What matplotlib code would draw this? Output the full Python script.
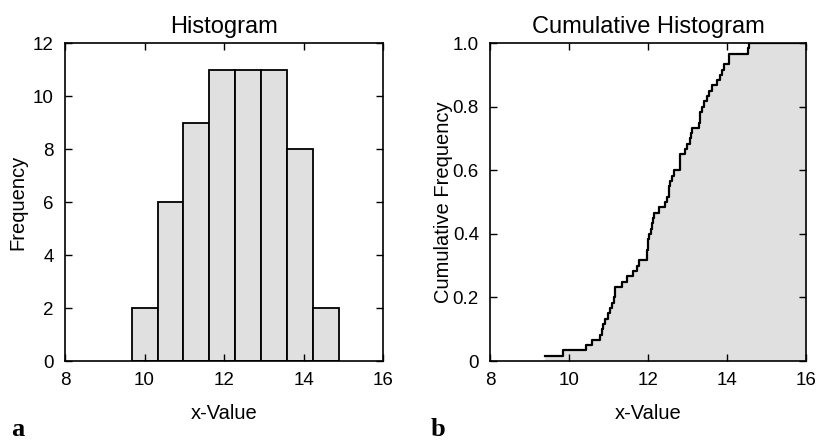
import numpy as np
import matplotlib
matplotlib.use("Agg")
import matplotlib.pyplot as plt

plt.rcParams['font.family'] = ['Liberation Sans', 'DejaVu Sans']

# histogram: bin edges and counts
bin_edges = [9.68, 10.33, 10.98, 11.63, 12.28, 12.93, 13.59, 14.24, 14.89]
counts = [2, 6, 9, 11, 11, 11, 8, 2]

# sorted sample values for the cumulative histogram
samples = [9.40, 9.86, 10.42, 10.59, 10.78, 10.84, 10.87, 10.91, 10.98, 11.05,
           11.10, 11.14, 11.155, 11.16, 11.35, 11.46, 11.61, 11.71, 11.77, 11.97,
           11.98, 11.99, 12.00, 12.03, 12.08, 12.11, 12.13, 12.15, 12.29, 12.44,
           12.48, 12.52, 12.54, 12.56, 12.62, 12.66, 12.81, 12.81, 12.82, 12.93,
           12.99, 13.06, 13.10, 13.12, 13.30, 13.31, 13.32, 13.36, 13.42, 13.49,
           13.55, 13.61, 13.74, 13.83, 13.87, 13.92, 14.05, 14.05, 14.53, 14.55]

left_yticks = [0, 2, 4, 6, 8, 10, 12]
right_yticks = [0, 0.2, 0.4, 0.6, 0.8, 1.0]
right_ylabels = ["0", "0.2", "0.4", "0.6", "0.8", "1.0"]
xticks = [8, 10, 12, 14, 16]

gray = "#e0e0e0"
tick_fs = 13.5
label_fs = 14.5
title_fs = 17

fig = plt.figure(figsize=(8.22, 4.4), dpi=100)
ax1 = fig.add_axes([0.0791, 0.1795, 0.3869, 0.7227])
ax2 = fig.add_axes([0.5961, 0.1795, 0.3844, 0.7227])

##========== histogram ==========
edges = np.array(bin_edges)
ax1.bar(edges[:-1], counts, width=np.diff(edges), align='edge',
        color=gray, edgecolor='black', linewidth=1.3)
ax1.set_xlim(8, 16)
ax1.set_ylim(0, 12)
ax1.set_yticks(left_yticks)
ax1.set_title("Histogram", fontsize=title_fs, pad=7)
ax1.set_xlabel("x-Value", fontsize=label_fs, labelpad=11)
ax1.set_ylabel("Frequency", fontsize=label_fs, labelpad=4)

##========== cumulative histogram ==========
xs = np.array(samples)
ys = np.arange(1, len(xs) + 1) / len(xs)
xs_full = np.append(xs, 16)
ys_full = np.append(ys, 1.0)
ax2.fill_between(xs_full, ys_full, step='post', color=gray, linewidth=0)
ax2.step(xs_full, ys_full, where='post', color='black', linewidth=1.6)
ax2.set_xlim(8, 16)
ax2.set_ylim(0, 1)
ax2.set_yticks(right_yticks)
ax2.set_yticklabels(right_ylabels)
ax2.set_title("Cumulative Histogram", fontsize=title_fs, pad=7)
ax2.set_xlabel("x-Value", fontsize=label_fs, labelpad=11)
ax2.set_ylabel("Cumulative Frequency", fontsize=label_fs, labelpad=0)

for ax in (ax1, ax2):
    ax.set_xticks(xticks)
    ax.tick_params(direction='in', top=True, right=True, length=5,
                   width=1, labelsize=tick_fs, pad=8)
    for s in ax.spines.values():
        s.set_linewidth(1.2)
    ax.set_axisbelow(False)

fig.text(0.013, 0.008, "a", fontsize=19, fontweight='bold', family='Liberation Serif')
fig.text(0.524, 0.008, "b", fontsize=19, fontweight='bold', family='Liberation Serif')

plt.savefig("out.png", dpi=100)
